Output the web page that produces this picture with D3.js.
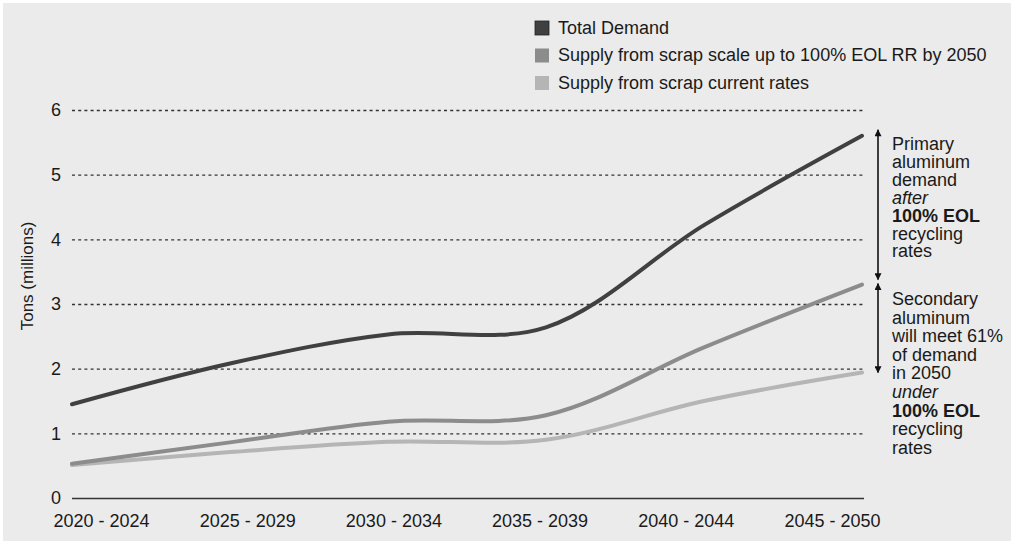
<!DOCTYPE html>
<html>
<head>
<meta charset="utf-8">
<script src="https://cdn.jsdelivr.net/npm/d3@7"></script>
<style>
  html, body { margin: 0; padding: 0; background: #ffffff; }
  svg { display: block; font-family: "Liberation Sans", Arial, sans-serif; }
</style>
</head>
<body>
<svg id="chart" width="1014" height="545"></svg>
<script>
// Aluminum demand vs. scrap supply by five-year period (million tons)
const periods = ["2020 - 2024", "2025 - 2029", "2030 - 2034", "2035 - 2039", "2040 - 2044", "2045 - 2050"];
const totalDemand = [1.45, 2.08, 2.53, 2.64, 4.22, 5.6];
const scrapScaleUp = [0.53, 0.86, 1.18, 1.28, 2.33, 3.3];
const scrapCurrent = [0.51, 0.71, 0.87, 0.9, 1.5, 1.94];
const yTicks = [0, 1, 2, 3, 4, 5, 6];

const seriesNames = ["Total Demand", "Supply from scrap scale up to 100% EOL RR by 2050", "Supply from scrap current rates"];
const seriesColors = ["#404040", "#8c8c8c", "#b5b5b5"];

const primaryNote = [["Primary", "normal"], ["aluminum", "normal"], ["demand", "normal"], ["after", "italic"], ["100% EOL", "bold"], ["recycling", "normal"], ["rates", "normal"]];
const secondaryNote = [["Secondary", "normal"], ["aluminum", "normal"], ["will meet 61%", "normal"], ["of demand", "normal"], ["in 2050", "normal"], ["under", "italic"], ["100% EOL", "bold"], ["recycling", "normal"], ["rates", "normal"]];

const series = [totalDemand, scrapScaleUp, scrapCurrent];

const svg = d3.select("#chart");
const textColor = "#1a1a1a";

// panel background
svg.append("rect").attr("x", 3).attr("y", 3).attr("width", 1008).attr("height", 538).attr("fill", "#ebebeb");

const plotLeft = 72, plotRight = 864, plotTop = 110, plotBottom = 498;

const y = d3.scaleLinear().domain([0, 6]).range([plotBottom, plotTop]);
const xLine = d3.scalePoint().domain(periods).range([plotLeft, 862]);
const xLabel = d3.scalePoint().domain(periods).range([101, 832]);

// dotted gridlines
svg.append("g").selectAll("line").data(yTicks.filter(d => d > 0)).join("line")
  .attr("x1", plotLeft).attr("x2", plotRight)
  .attr("y1", d => y(d) + 0.5).attr("y2", d => y(d) + 0.5)
  .attr("stroke", "#333").attr("stroke-width", 1.4).attr("stroke-dasharray", "3,3.2");

// baseline
svg.append("line").attr("x1", plotLeft).attr("x2", plotRight)
  .attr("y1", y(0) + 0.5).attr("y2", y(0) + 0.5)
  .attr("stroke", "#333").attr("stroke-width", 1.5);

// y tick labels
const yAxis = d3.axisLeft(y).tickValues(yTicks).tickSize(0).tickPadding(0).tickFormat(d3.format("d"));
const yg = svg.append("g").attr("transform", "translate(61,0)").call(yAxis);
yg.select(".domain").remove();
yg.selectAll("text").attr("font-size", 18).attr("fill", textColor).attr("font-family", "Liberation Sans, Arial, sans-serif");

// x labels
const xAxis = d3.axisBottom(xLabel).tickSize(0).tickPadding(0);
const xg = svg.append("g").attr("transform", "translate(0,514)").call(xAxis);
xg.select(".domain").remove();
xg.selectAll("text").attr("font-size", 18).attr("fill", textColor).attr("font-family", "Liberation Sans, Arial, sans-serif");

// y axis title
svg.append("text")
  .attr("transform", `translate(33,${(plotTop + plotBottom) / 2 - 28}) rotate(-90)`)
  .attr("text-anchor", "middle").attr("font-size", 17).attr("fill", textColor)
  .text("Tons (millions)");

// series lines
const line = d3.line()
  .x((d, i) => xLine(periods[i]))
  .y(d => y(d))
  .curve(d3.curveCatmullRom.alpha(0.5));

svg.append("g").selectAll("path").data(series.slice().reverse()).join("path")
  .attr("d", d => line(d))
  .attr("fill", "none")
  .attr("stroke", (d, i) => seriesColors[series.length - 1 - i])
  .attr("stroke-width", 4)
  .attr("stroke-linecap", "round")
  .attr("stroke-linejoin", "round");

// legend
const legend = svg.append("g").attr("transform", "translate(535,21)");
const li = legend.selectAll("g").data(seriesNames).join("g")
  .attr("transform", (d, i) => `translate(0,${i * 27.5})`);
li.append("rect").attr("width", 14).attr("height", 14)
  .attr("fill", (d, i) => seriesColors[i])
  .attr("stroke", (d, i) => i === 0 ? "#222" : "none").attr("stroke-width", 0.8);
li.append("text").attr("x", 23).attr("y", 12.5).attr("font-size", 18).attr("fill", textColor).text(d => d);

// double-headed arrows spanning the 2050 gaps
const arrowX = 878;
const defs = svg.append("defs");
defs.append("marker").attr("id", "head").attr("viewBox", "0 0 10 10")
  .attr("refX", 9).attr("refY", 5).attr("markerWidth", 8).attr("markerHeight", 7)
  .attr("markerUnits", "userSpaceOnUse").attr("orient", "auto-start-reverse")
  .append("path").attr("d", "M0,0 L10,5 L0,10 Z").attr("fill", "#111");

const spans = [
  [totalDemand[totalDemand.length - 1], scrapScaleUp[scrapScaleUp.length - 1]],
  [scrapScaleUp[scrapScaleUp.length - 1], scrapCurrent[scrapCurrent.length - 1]]
];
svg.append("g").selectAll("line").data(spans).join("line")
  .attr("x1", arrowX).attr("x2", arrowX)
  .attr("y1", (d, i) => y(d[0]) - (i === 0 ? 6 : 1))
  .attr("y2", (d, i) => y(d[1]) - (i === 0 ? 5 : 0))
  .attr("stroke", "#111").attr("stroke-width", 1.6)
  .attr("marker-start", "url(#head)").attr("marker-end", "url(#head)");

// annotation text blocks
function note(lines, startY, step) {
  const t = svg.append("text").attr("x", 892).attr("font-size", 18).attr("fill", textColor);
  lines.forEach(([s, style], i) => {
    t.append("tspan").attr("x", 892).attr("y", startY + i * step)
      .attr("font-style", style === "italic" ? "italic" : "normal")
      .attr("font-weight", style === "bold" ? "bold" : "normal")
      .text(s);
  });
}
note(primaryNote, 150, 17.9);
note(secondaryNote, 305, 18.6);
</script>
</body>
</html>
